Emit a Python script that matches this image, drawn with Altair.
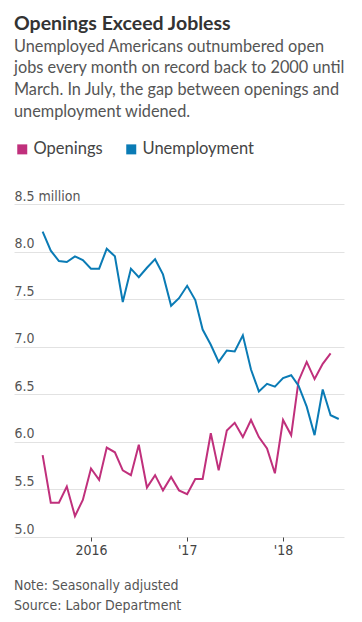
import altair as alt
import pandas as pd

months = [
    "2015-07-01", "2015-08-01", "2015-09-01", "2015-10-01", "2015-11-01", "2015-12-01",
    "2016-01-01", "2016-02-01", "2016-03-01", "2016-04-01", "2016-05-01", "2016-06-01",
    "2016-07-01", "2016-08-01", "2016-09-01", "2016-10-01", "2016-11-01", "2016-12-01",
    "2017-01-01", "2017-02-01", "2017-03-01", "2017-04-01", "2017-05-01", "2017-06-01",
    "2017-07-01", "2017-08-01", "2017-09-01", "2017-10-01", "2017-11-01", "2017-12-01",
    "2018-01-01", "2018-02-01", "2018-03-01", "2018-04-01", "2018-05-01", "2018-06-01",
    "2018-07-01", "2018-08-01",
]

unemployment = [
    8.21, 8.01, 7.90, 7.89, 7.95, 7.91, 7.82, 7.82, 8.03, 7.95, 7.47, 7.82,
    7.73, 7.83, 7.92, 7.76, 7.43, 7.51, 7.64, 7.49, 7.18, 7.02, 6.84, 6.96,
    6.95, 7.12, 6.76, 6.53, 6.61, 6.58, 6.67, 6.70, 6.59, 6.37, 6.07, 6.55,
    6.28, 6.24,
]

openings = [
    5.86, 5.36, 5.36, 5.53, 5.22, 5.39, 5.72, 5.60, 5.94, 5.89, 5.70, 5.65,
    5.97, 5.52, 5.65, 5.49, 5.63, 5.49, 5.45, 5.61, 5.61, 6.09, 5.70, 6.12,
    6.20, 6.05, 6.23, 6.05, 5.93, 5.67, 6.23, 6.07, 6.64, 6.84, 6.66, 6.82,
    6.93,
]

series_names = ["Openings", "Unemployment"]
series_colors = ["#c0307c", "#0a7bb5"]
y_ticks = [5.0, 5.5, 6.0, 6.5, 7.0, 7.5, 8.0, 8.5]

title_text = "Openings Exceed Jobless"
subtitle_lines = [
    "Unemployed Americans outnumbered open",
    "jobs every month on record back to 2000 until",
    "March. In July, the gap between openings and",
    "unemployment widened.",
]
footnotes = ["Note: Seasonally adjusted", "Source: Labor Department"]

rows = []
for d, v in zip(months, openings):
    rows.append({"date": d, "value": v, "series": "Openings"})
for d, v in zip(months, unemployment):
    rows.append({"date": d, "value": v, "series": "Unemployment"})
df = pd.DataFrame(rows)

W, H = 330, 333
FONT = "Lato"
NARROW = "DejaVu Sans Condensed, Roboto Condensed, Roboto, sans-serif"

lines = alt.Chart(df).mark_line(strokeWidth=2).encode(
    x=alt.X(
        "date:T",
        title=None,
        scale=alt.Scale(domain=[alt.DateTime(year=2015, month=3, date=14),
                                alt.DateTime(year=2018, month=8, date=21)]),
        axis=alt.Axis(
            values=[alt.DateTime(year=2016, month=1, date=1),
                    alt.DateTime(year=2017, month=1, date=1),
                    alt.DateTime(year=2018, month=1, date=1)],
            labelExpr="timeFormat(datum.value, '%Y') == '2016' ? '2016' : timeFormat(datum.value, \"'%y\")",
            domain=False, grid=False, ticks=True, tickSize=4, tickColor="#444",
            labelFont=NARROW, labelFontSize=14, labelColor="#444", labelPadding=2,
        ),
    ),
    y=alt.Y(
        "value:Q",
        title=None,
        scale=alt.Scale(domain=[5, 8.5], nice=False, zero=False),
        axis=alt.Axis(
            values=y_ticks,
            labelExpr="datum.value == 8.5 ? '8.5 million' : format(datum.value, '.1f')",
            domain=False, ticks=False, tickSize=0, labelAlign="left", labelPadding=0,
            labelBaseline="bottom", labelOffset=-1,
            labelFont=NARROW, labelFontSize=14, labelColor="#555",
            grid=True, gridColor="#e2e2e2", gridWidth=1,
        ),
    ),
    color=alt.Color(
        "series:N",
        scale=alt.Scale(domain=series_names, range=series_colors),
        legend=alt.Legend(
            title=None, orient="none", legendX=0, legendY=-63, direction="horizontal",
            symbolType="square", symbolSize=25, symbolStrokeWidth=5,
            labelFont=FONT, labelFontSize=16.5, labelColor="#444", labelOffset=3,
            columnPadding=15,
        ),
    ),
)

notes_df = pd.DataFrame({"t": footnotes, "k": [0, 1]})
notes = alt.Chart(notes_df).mark_text(
    align="left", baseline="middle", font=NARROW, fontSize=14, color="#555"
).encode(
    x=alt.value(0),
    y=alt.Y("k:Q", axis=None, scale=alt.Scale(domain=[0, 1], range=[H + 49, H + 69])),
    text="t:N",
)

chart = alt.layer(lines, notes).resolve_scale(y="independent").properties(
    width=W,
    height=H,
    padding={"left": 6, "top": 6, "right": 4, "bottom": 4},
    title=alt.TitleParams(
        text=title_text,
        subtitle=subtitle_lines,
        anchor="start",
        font=FONT, fontSize=19.5, fontWeight="bold", color="#333",
        subtitleFont=FONT, subtitleFontSize=16.3, subtitleColor="#555",
        subtitleLineHeight=21.7, subtitlePadding=4, offset=20,
    ),
).configure_view(stroke=None)

chart.save("out.html", embed_options={"renderer": "svg", "actions": False})
